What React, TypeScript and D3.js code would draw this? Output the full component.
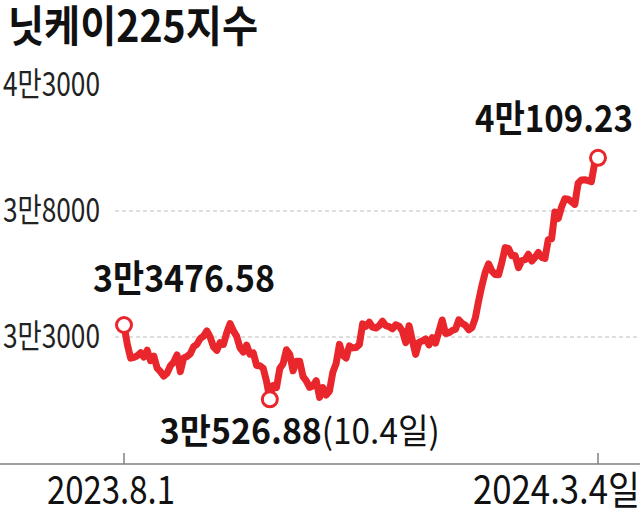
import React from "react";
import * as d3 from "d3";

// Nikkei 225 closing values, trading days 2023.8.1 ~ 2024.3.4
const dates = [
  "2023-08-01", "2023-08-02", "2023-08-03", "2023-08-04", "2023-08-07", "2023-08-08", "2023-08-09", "2023-08-10",
  "2023-08-14", "2023-08-15", "2023-08-16", "2023-08-17", "2023-08-18", "2023-08-21", "2023-08-22", "2023-08-23",
  "2023-08-24", "2023-08-25", "2023-08-28", "2023-08-29", "2023-08-30", "2023-08-31",
  "2023-09-01", "2023-09-04", "2023-09-05", "2023-09-06", "2023-09-07", "2023-09-08", "2023-09-11", "2023-09-12",
  "2023-09-13", "2023-09-14", "2023-09-15", "2023-09-19", "2023-09-20", "2023-09-21", "2023-09-22", "2023-09-25",
  "2023-09-26", "2023-09-27", "2023-09-28", "2023-09-29",
  "2023-10-02", "2023-10-03", "2023-10-04", "2023-10-05", "2023-10-06", "2023-10-10", "2023-10-11", "2023-10-12",
  "2023-10-13", "2023-10-16", "2023-10-17", "2023-10-18", "2023-10-19", "2023-10-20", "2023-10-23", "2023-10-24",
  "2023-10-25", "2023-10-26", "2023-10-27", "2023-10-30", "2023-10-31",
  "2023-11-01", "2023-11-02", "2023-11-06", "2023-11-07", "2023-11-08", "2023-11-09", "2023-11-10", "2023-11-13",
  "2023-11-14", "2023-11-15", "2023-11-16", "2023-11-17", "2023-11-20", "2023-11-21", "2023-11-22", "2023-11-24",
  "2023-11-27", "2023-11-28", "2023-11-29", "2023-11-30",
  "2023-12-01", "2023-12-04", "2023-12-05", "2023-12-06", "2023-12-07", "2023-12-08", "2023-12-11", "2023-12-12",
  "2023-12-13", "2023-12-14", "2023-12-15", "2023-12-18", "2023-12-19", "2023-12-20", "2023-12-21", "2023-12-22",
  "2023-12-25", "2023-12-26", "2023-12-27", "2023-12-28", "2023-12-29",
  "2024-01-04", "2024-01-05", "2024-01-09", "2024-01-10", "2024-01-11", "2024-01-12", "2024-01-15", "2024-01-16",
  "2024-01-17", "2024-01-18", "2024-01-19", "2024-01-22", "2024-01-23", "2024-01-24", "2024-01-25", "2024-01-26",
  "2024-01-29", "2024-01-30", "2024-01-31",
  "2024-02-01", "2024-02-02", "2024-02-05", "2024-02-06", "2024-02-07", "2024-02-08", "2024-02-09", "2024-02-13",
  "2024-02-14", "2024-02-15", "2024-02-16", "2024-02-19", "2024-02-20", "2024-02-21", "2024-02-22", "2024-02-26",
  "2024-02-27", "2024-02-28", "2024-02-29",
  "2024-03-01", "2024-03-04",
];

const closes = [
  33476.58, 32707.69, 32159.28, 32192.75, 32254.56, 32377.29, 32204.33, 32473.65,
  32059.91, 32238.89, 31766.82, 31626.0, 31450.76, 31565.64, 31856.71, 32010.26,
  32287.21, 31624.28, 32169.99, 32226.97, 32333.46, 32619.34,
  32710.62, 32939.18, 33036.76, 33241.02, 32991.08, 32606.84, 32467.76, 32776.37,
  32706.52, 33168.1, 33533.09, 33242.59, 33023.78, 32571.03, 32402.41, 32678.62,
  32315.05, 32371.9, 31872.52, 31857.62,
  31759.88, 31237.94, 30526.88, 31075.36, 30994.67, 31746.53, 31936.51, 32494.66,
  32315.99, 31659.03, 32040.29, 32042.25, 31430.62, 31259.36, 30999.55, 31062.35,
  31269.92, 30601.78, 30991.69, 30696.96, 30858.85,
  31601.65, 31949.89, 32708.48, 32271.82, 32166.48, 32646.46, 32568.11, 32585.11,
  32695.93, 33519.7, 33424.41, 33585.2, 33388.03, 33354.14, 33451.83, 33625.53,
  33447.67, 33408.39, 33321.22, 33486.89,
  33431.51, 33231.27, 32775.82, 33445.9, 32858.31, 32307.86, 32791.8, 32843.71,
  32926.35, 32686.25, 32970.55, 32758.98, 33219.39, 33675.94, 33140.47, 33169.05,
  33254.03, 33305.85, 33681.24, 33539.62, 33464.17,
  33288.29, 33377.42, 33763.18, 34441.72, 35049.86, 35577.11, 35901.79, 35619.18,
  35477.75, 35466.17, 35963.27, 36546.95, 36517.57, 36226.48, 36236.47, 35751.07,
  36026.94, 36065.86, 36286.71,
  36011.46, 36158.02, 36354.16, 36160.66, 36119.92, 36863.28, 36897.42, 37963.97,
  37703.32, 38157.94, 38487.24, 38470.38, 38363.61, 38262.16, 39098.68, 39233.71,
  39239.52, 39208.03, 39166.19,
  39910.82, 40109.23,
];

const title = "닛케이225지수";
const yTickValues = [43000, 38000, 33000];
const yTickLabels = ["4만3000", "3만8000", "3만3000"];
const gridValues = [38000, 33000];
const xTickLabels = ["2023.8.1", "2024.3.4일"];

// marked points: start, low (10.4), last
const startLabel = "3만3476.58";
const lowDate = "2023-10-04";
const lowLabel = "3만526.88";
const lowNote = "(10.4일)";
const endLabel = "4만109.23";

const RED = "#e8262c";
const FONT = "'Noto Sans CJK KR', 'Noto Sans', sans-serif";

class App extends React.Component {
  myRef: React.RefObject<SVGSVGElement>;

  constructor(props: any) {
    super(props);
    this.myRef = React.createRef();
  }

  componentDidMount() {
    const width = 640, height = 510;
    const svg = d3.select(this.myRef.current);
    svg.selectAll("*").remove(); // strict mode runs this twice

    svg.attr("width", width).attr("height", height).attr("viewBox", [0, 0, width, height]);
    svg.append("rect").attr("width", width).attr("height", height).attr("fill", "#fff");

    const x = d3.scalePoint<string>().domain(dates).range([124, 598]);
    const y = d3.scaleLinear().domain([28000, 43000]).range([463, 85]);

    // title
    svg.append("text")
      .attr("x", 8).attr("y", 42)
      .attr("font-family", FONT).attr("font-weight", 700).attr("font-size", 43)
      .attr("textLength", 250).attr("lengthAdjust", "spacingAndGlyphs")
      .attr("fill", "#111")
      .text(title);

    // dashed grid
    svg.append("g").selectAll("line").data(gridValues).join("line")
      .attr("x1", 115).attr("x2", width)
      .attr("y1", d => y(d)).attr("y2", d => y(d))
      .attr("stroke", "#bdbdbd").attr("stroke-width", 1).attr("stroke-dasharray", "4,3");

    // y labels
    svg.append("g").selectAll("text").data(yTickValues).join("text")
      .attr("x", 3).attr("y", d => y(d) + 11)
      .attr("font-family", FONT).attr("font-weight", 400).attr("font-size", 33)
      .attr("textLength", 97).attr("lengthAdjust", "spacingAndGlyphs")
      .attr("fill", "#222")
      .text((d, i) => yTickLabels[i]);

    // x axis
    const axisY = 464;
    svg.append("line")
      .attr("x1", 0).attr("x2", width).attr("y1", axisY).attr("y2", axisY)
      .attr("stroke", "#808080").attr("stroke-width", 1.5);

    const tickDates = [dates[0], dates[dates.length - 1]];
    svg.append("g").selectAll("line").data(tickDates).join("line")
      .attr("x1", d => x(d)!).attr("x2", d => x(d)!)
      .attr("y1", axisY - 11).attr("y2", axisY)
      .attr("stroke", "#808080").attr("stroke-width", 1.5);

    svg.append("text")
      .attr("x", x(tickDates[0])! - 77).attr("y", 504)
      .attr("font-family", FONT).attr("font-size", 39)
      .attr("textLength", 128).attr("lengthAdjust", "spacingAndGlyphs")
      .attr("fill", "#111")
      .text(xTickLabels[0]);
    svg.append("text")
      .attr("x", width).attr("y", 504).attr("text-anchor", "end")
      .attr("font-family", FONT).attr("font-size", 39)
      .attr("textLength", 167).attr("lengthAdjust", "spacingAndGlyphs")
      .attr("fill", "#111")
      .text(xTickLabels[1]);

    // the index line
    const line = d3.line<number>()
      .x((d, i) => x(dates[i])!)
      .y(d => y(d));

    svg.append("path")
      .attr("d", line(closes))
      .attr("fill", "none")
      .attr("stroke", RED)
      .attr("stroke-width", 7)
      .attr("stroke-linejoin", "round")
      .attr("stroke-linecap", "round");

    // marker circles
    const li = dates.indexOf(lowDate);
    const marks = [
      { d: dates[0], v: closes[0] },
      { d: dates[li], v: closes[li] },
      { d: dates[dates.length - 1], v: closes[closes.length - 1] },
    ];
    svg.append("g").selectAll("circle").data(marks).join("circle")
      .attr("cx", m => x(m.d)!)
      .attr("cy", m => y(m.v))
      .attr("r", 7.5)
      .attr("fill", "#fff")
      .attr("stroke", RED)
      .attr("stroke-width", 3);

    // value labels
    const sx = x(marks[0].d)!, sy = y(marks[0].v);
    svg.append("text")
      .attr("x", sx - 31).attr("y", sy - 33)
      .attr("font-family", FONT).attr("font-weight", 700).attr("font-size", 37)
      .attr("textLength", 182).attr("lengthAdjust", "spacingAndGlyphs")
      .attr("fill", "#111")
      .text(startLabel);

    const lx = x(marks[1].d)!, ly = y(marks[1].v);
    svg.append("text")
      .attr("x", lx - 110).attr("y", ly + 45)
      .attr("font-family", FONT).attr("font-weight", 700).attr("font-size", 35)
      .attr("textLength", 162).attr("lengthAdjust", "spacingAndGlyphs")
      .attr("fill", "#111")
      .text(lowLabel);
    svg.append("text")
      .attr("x", lx + 52).attr("y", ly + 45)
      .attr("font-family", FONT).attr("font-weight", 400).attr("font-size", 35)
      .attr("textLength", 118).attr("lengthAdjust", "spacingAndGlyphs")
      .attr("fill", "#111")
      .text(lowNote);

    const ex = x(marks[2].d)!, ey = y(marks[2].v);
    svg.append("text")
      .attr("x", ex + 35).attr("y", ey - 26).attr("text-anchor", "end")
      .attr("font-family", FONT).attr("font-weight", 700).attr("font-size", 37)
      .attr("textLength", 158).attr("lengthAdjust", "spacingAndGlyphs")
      .attr("fill", "#111")
      .text(endLabel);
  }

  render() {
    return (
      <svg ref={this.myRef} style={{ position: "absolute", left: 0, top: 0, display: "block" }}></svg>
    );
  }
}

export default App;
